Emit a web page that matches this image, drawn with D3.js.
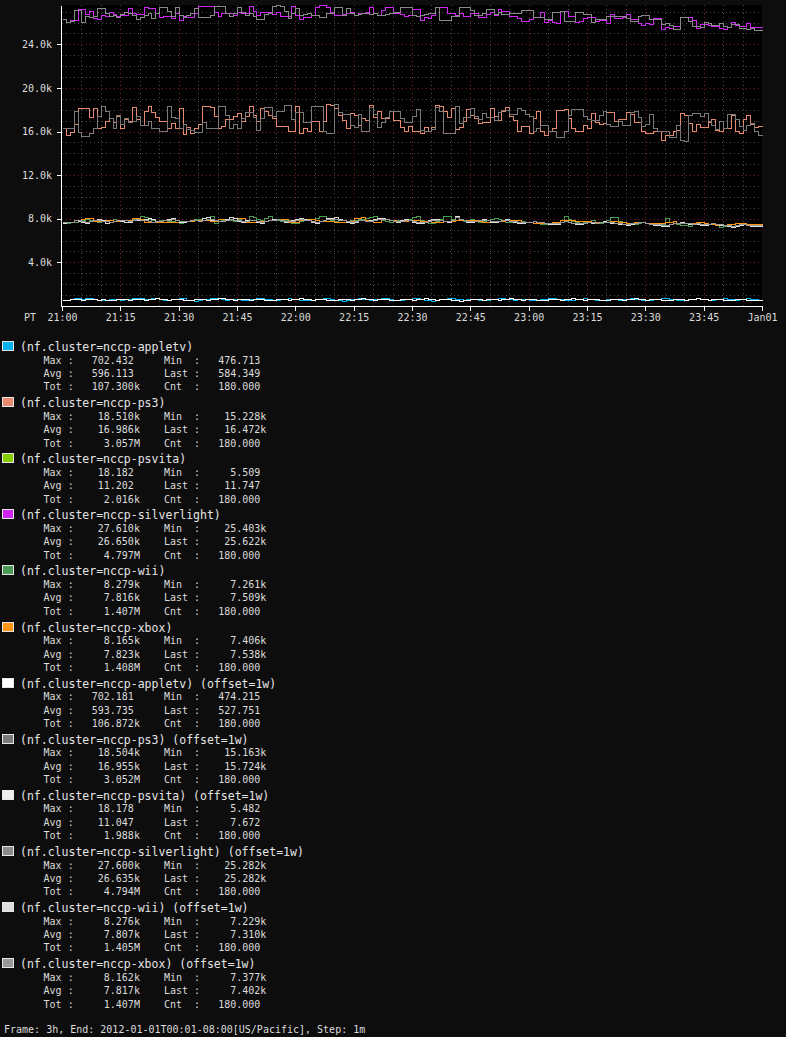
<!DOCTYPE html>
<html>
<head>
<meta charset="utf-8">
<script src="https://cdn.jsdelivr.net/npm/d3@7"></script>
<style>
  html, body { margin: 0; padding: 0; background: #0d0d0d; }
  svg { display: block; }
  text { font-family: "DejaVu Sans Mono", "Liberation Mono", monospace; white-space: pre; }
</style>
</head>
<body>
<svg id="chart" width="786" height="1037"></svg>
<script>
// ---------------- DATA ----------------
const stepMinutes = 1;
const startTime = Date.UTC(2011, 11, 31, 21, 0); // 21:00 PT shown as clock time
const pointCount = 180;

const appletv = [
560,520,600,690,690,650,700,702.432,600,560,
520,560,600,640,600,560,600,650,690,690,
700,650,620,690,690,600,560,540,600,640,
690,690,560,520,500,540,600,640,690,700,
690,600,560,600,650,600,520,540,600,650,
690,690,640,600,560,540,600,650,690,640,
600,560,540,520,560,600,650,690,690,600,
560,520,476.713,520,600,640,690,650,600,560,
600,650,690,690,600,560,520,560,600,640,
690,690,640,560,520,500,560,600,650,690,
690,640,600,560,600,650,600,560,520,560,
600,650,690,690,640,600,560,600,650,600,
560,520,540,600,650,690,690,640,600,560,
520,560,600,640,690,640,600,560,520,560,
600,640,600,560,600,650,690,650,600,560,
540,560,600,640,690,690,640,600,560,520,
560,600,650,690,640,600,560,540,600,650,
690,640,600,560,600,650,690,640,600,584.349];

const ps3 = [
16360,15690,15990,16690,18190,18190,18190,17310,18190,16300,
16450,17000,17210,16910,17430,16300,17120,17000,18220,17120,
16600,17920,18350,17820,17310,17000,17000,16300,16820,16300,
18130,15780,16450,15900,16300,16690,18350,18350,18220,17430,
16300,16510,17120,17120,17430,17670,17000,17430,18350,17520,
17000,18160,17920,17550,17250,16480,16480,16480,16020,16020,
18320,15870,16330,16020,16940,16940,16020,16940,18510,18470,
18160,17550,17090,16330,17710,17550,16640,17250,17090,18400,
17300,17920,17250,17250,17920,17090,17090,16400,16020,16550,
16070,16070,15870,16390,16020,16390,18410,18320,17860,17310,
18160,16270,16390,16940,18100,17550,17250,16790,16880,16880,
18160,17400,17090,17920,18220,17400,17090,16020,16480,16480,
15870,17250,17920,16020,15720,16080,16330,18010,18010,18100,
17250,16330,16020,16020,16640,16330,17710,16880,16700,16790,
17800,17800,16940,17190,17190,17800,17610,16880,16880,16080,
15870,15870,16080,16080,15228,15660,15660,16020,16180,17710,
17550,16790,16020,16700,16390,16390,16880,17190,16180,16020,
16330,16330,17490,16020,15870,17190,17550,16700,16390,16472];

const psvita = [
10,12,11,9,13,14,12,10,8,11,
12,13,15,11,9,10,12,14,11,10,
9,12,13,11,10,8,11,13,15,12,
11,10,12,14,13,11,9,10,12,11,
13,15,18.182,12,10,9,11,12,14,11,
10,12,11,9,8,10,12,13,11,10,
12,14,12,10,9,11,13,12,10,11,
12,10,8,5.509,9,11,12,14,13,11,
10,12,13,11,9,10,12,11,13,15,
12,10,11,13,12,10,9,11,12,14,
13,11,10,12,11,9,10,12,13,11,
10,12,14,12,11,9,10,11,13,12,
11,10,12,13,11,9,8,10,12,11,
13,12,10,11,12,14,11,10,9,11,
12,13,11,10,12,11,9,10,12,13,
11,10,12,14,12,10,11,13,12,10,
9,11,12,10,11,13,12,10,11,12,
13,11,10,12,11,9,10,12,11,11.747];

const silverlight = [
26330,26020,26230,26230,27210,27210,26780,27090,26390,26330,
26650,26600,26960,26780,26600,26690,26690,27300,26910,26780,
26780,27400,27300,27300,26910,26540,26600,26600,26390,26850,
26230,26600,26480,26480,26850,27520,27520,27520,27520,27000,
26600,26850,26850,26850,26690,27000,26850,26850,27520,27090,
26690,27000,27000,27000,26780,27000,26600,26600,26600,27520,
26690,26330,26480,26480,26690,27460,27610,27580,27400,27000,
26690,26690,26780,26910,27000,26690,26910,26910,27000,27460,
26910,26690,27150,27400,27400,26910,26910,26780,26600,26650,
27250,27250,26230,26540,26390,26690,27400,27400,27400,26910,
26910,26690,26850,26600,26600,26910,26850,26540,26540,26780,
27000,26690,27210,27090,27090,26600,26600,26390,26170,26170,
26330,26480,26480,27000,26080,26230,26080,25930,27030,27030,
26600,26600,26050,26170,26390,26480,26480,26170,26230,26230,
25990,26780,26390,26390,26540,26780,26330,26330,25930,25780,
25930,25870,26450,26450,25403,25560,25470,25680,25680,26480,
26480,26480,26230,25470,25870,25870,25780,25680,25680,25470,
25410,25620,26080,25780,25680,25680,25990,25620,25620,25622];

const wii = [
7700,7650,7680,7750,7900,7900,7980,7850,7800,7720,
7760,7820,7900,7950,7880,7800,7850,7780,7950,8050,
8230,8180,7950,7900,7800,7850,7880,7820,7780,7700,
7640,7700,7800,7880,7950,8000,7900,7850,8250,7620,
7780,7900,7950,7870,7820,8000,8050,7900,8260,8180,
7950,7900,8050,8270,8000,7850,7800,7900,7850,7620,
7650,7800,7900,7880,7950,8050,8230,8279,8000,7900,
7820,7750,7700,7800,7900,7850,7950,8000,8050,8200,
8250,7950,7850,7780,7700,7820,7900,7850,7900,8000,
8150,8250,7900,7800,7580,7650,7800,7950,8240,8260,
8000,7900,7850,7800,7900,7950,7850,7750,7800,7900,
7950,8050,7950,7800,7700,7750,7850,7900,7800,7750,
7700,7650,7600,7550,7480,7520,7500,7600,7750,8220,
7950,7800,7700,7650,7700,7800,7850,7700,7650,7750,
7900,8200,8150,7800,7700,7650,7600,7550,7600,7700,
7650,7550,7480,7400,7500,8100,7700,7600,7500,7450,
7400,7350,7500,7600,7700,7650,7550,7500,7400,7261,
7300,7450,7550,7600,7650,7550,7500,7450,7520,7509];

const xbox = [
7720,7700,7750,7920,7920,7950,8050,8050,7780,7780,
7800,7850,7850,7830,7800,7830,7850,7900,8050,8050,
7950,7750,7750,7720,7720,7720,7720,7700,7750,7750,
7800,7830,7830,7830,7920,7920,7850,7850,7830,7830,
7950,7950,7980,8020,8050,8050,8100,7750,7720,7720,
7800,7830,7830,7900,7950,7980,8000,8000,7750,7720,
7720,7900,7920,7950,7950,7850,7830,7830,7800,7780,
7720,7720,7700,7780,7800,8050,8100,8165,7900,7780,
7750,7700,7950,7950,7920,7850,7830,7830,7800,7920,
7920,7920,7800,7780,7780,7700,7720,7720,7780,7800,
7830,7850,7920,7900,7900,7880,7920,7780,7720,7720,
7700,7780,7830,7830,7850,7880,7850,7850,7720,7700,
7700,7640,7640,7620,7620,7650,7700,7700,7850,7900,
7880,7850,7800,7780,7800,7830,7700,7680,7720,7750,
7750,7800,7830,7700,7700,7650,7650,7680,7700,7680,
7650,7620,7610,7600,7610,7700,7750,7800,7650,7580,
7580,7600,7650,7700,7700,7600,7550,7500,7450,7406,
7450,7500,7550,7580,7600,7580,7560,7550,7540,7538];

const appletvOffset = [
540,560,600,640,600,560,600,640,600,560,
600,560,520,560,600,640,600,560,600,640,
600,560,600,640,690,640,600,560,600,640,
600,560,520,560,600,640,600,560,600,640,
690,702.181,640,600,560,600,640,600,560,600,
640,600,560,520,560,600,640,600,560,600,
640,690,640,600,560,600,640,600,560,520,
560,600,640,600,560,600,640,690,640,600,
560,600,640,600,560,520,560,600,640,600,
560,600,640,690,640,600,560,600,640,600,
560,520,474.215,520,560,600,640,600,560,600,
640,600,560,600,640,690,640,600,560,600,
640,600,560,520,560,600,640,600,560,600,
640,690,640,600,560,600,640,600,560,520,
560,600,640,600,560,600,640,690,640,600,
560,600,640,600,560,520,560,600,640,600,
560,600,640,690,640,600,560,600,640,600,
560,520,560,600,640,600,560,540,530,527.751];

const ps3Offset = [
16360,16360,16360,17920,15990,15600,15600,15900,16300,17430,
18300,17920,17210,16300,17520,16690,17210,16910,17000,17430,
16600,16600,17000,16300,16300,16060,16060,18300,17310,17210,
16300,16690,16210,16120,15960,15960,16910,16300,16300,16300,
18380,18350,17520,16300,16690,16300,17210,17820,17820,17310,
16180,17250,18220,18220,17400,17920,17920,18470,18470,17190,
17800,17800,16880,16880,18320,18320,18320,16020,15870,15870,
18504,17800,17610,17610,16640,16390,17610,16020,16020,18220,
17610,16390,16880,17310,17860,17920,17920,17250,16880,16880,
17400,18100,16180,16020,16020,16270,18220,17920,15870,15870,
15870,18320,16790,17310,17310,18160,17400,17190,17710,17310,
17310,17090,17800,18010,18010,17610,17610,18160,18010,17610,
17400,16020,16330,16640,16640,16020,16020,15470,15470,16080,
17550,18100,18100,18100,17400,17190,17030,17030,17550,17920,
16700,16480,16480,16940,16640,16640,17800,17860,17310,16480,
16700,17610,16330,16020,16020,16080,15470,15470,16640,15260,
15163,17550,17710,17710,17400,17710,16940,16640,16270,16940,
16330,17610,17610,17190,16480,16180,16640,16790,16020,15724];

const psvitaOffset = [
11,10,12,13,11,9,10,12,11,13,
12,10,9,11,13,12,10,11,12,14,
12,11,10,9,11,12,13,11,10,12,
13,11,9,10,12,11,13,15,12,10,
11,12,10,9,11,13,12,10,11,12,
14,12,11,10,12,13,11,9,10,12,
11,13,12,10,9,11,12,14,18.178,12,
11,10,12,11,9,10,12,13,11,10,
12,11,9,5.482,8,10,12,11,13,12,
10,11,12,10,9,11,13,12,10,11,
12,13,11,10,9,11,12,10,11,13,
12,10,11,12,9,10,11,13,12,10,
11,12,10,9,11,12,13,11,10,12,
11,10,9,11,12,13,11,10,12,11,
10,12,11,9,10,11,13,12,10,11,
12,11,10,9,11,12,10,11,12,10,
9,11,12,10,11,10,9,11,12,10,
11,12,10,9,10,11,9,8,8,7.672];

const silverlightOffset = [
26330,26080,26170,27150,27150,26080,26600,26480,26600,27300,
27300,26850,26600,26690,26540,26780,27000,26850,26690,26330,
26540,26690,26910,26390,26850,27400,27400,27090,26600,27400,
26690,26540,26690,26850,27300,26540,26540,26540,26690,27520,
27520,27520,26910,26600,26850,27460,27000,26690,26910,26600,
26330,26330,26780,26850,27520,27600,27520,27090,26390,26850,
27300,26690,26780,26910,26690,26690,26540,26540,26850,26910,
27460,27460,26690,27300,26850,26690,26780,26850,26910,26780,
26910,26690,26690,26780,26850,27000,27000,27400,27400,27400,
26690,26600,26690,26780,26910,26850,27460,26230,26230,26230,
26600,26600,27400,27400,27400,27150,26690,26690,26910,27210,
27210,26780,27000,26780,26780,26850,26850,26850,27150,27150,
27150,26480,26480,26540,26330,26330,27000,27000,27030,26170,
26170,26170,26940,26940,26780,26780,26080,26330,26330,26330,
26600,26600,26600,26600,26600,26450,26170,26170,26600,26690,
26690,26330,26330,26330,25870,25930,25780,25380,25380,26480,
26480,26170,25680,25680,25620,26080,25990,25780,25780,25930,
25680,25620,25870,25870,25500,25500,25410,25500,25282,25282];

const wiiOffset = [
7650,7700,7680,7900,7820,7700,7650,7780,7900,7950,
7880,7650,7700,7800,7900,7800,7750,7700,7880,7920,
7850,8000,8050,7950,7800,7780,7900,7950,8050,7850,
7750,7720,7800,7900,7880,7800,8100,8150,7900,7850,
7780,7800,7950,8150,8100,7800,7750,7880,7900,7850,
7700,7650,7800,7900,8000,7950,7850,7750,7800,7900,
8000,8050,7950,7850,7700,7650,7800,7900,8050,8100,
8150,7950,7850,7700,7650,7750,7880,7900,7800,7850,
7950,8050,8100,8000,7900,7800,7750,7850,7950,7880,
7750,7650,7600,7700,7850,7950,8000,7900,7800,7750,
7850,8276,8000,7850,7750,7700,7800,7900,7950,7850,
7750,7700,7800,7880,7950,7800,7700,7650,7600,7680,
7750,7800,7750,7700,7600,7550,7500,7550,7700,7800,
7700,7600,7550,7500,7600,7700,7650,7600,7700,7800,
7750,7650,7600,7550,7500,7450,7550,7650,7750,7700,
7600,7500,7450,7400,7350,7300,7500,7600,7650,7700,
7600,7550,7500,7550,7450,7400,7500,7600,7550,7450,
7400,7350,7229,7300,7450,7500,7400,7350,7300,7310];

const xboxOffset = [
7700,7680,7720,7850,7880,7800,7750,7820,7900,7850,
7820,7780,7750,7800,7850,7900,7880,7820,7850,7950,
7920,7880,7800,7750,7780,7820,7850,7900,7950,7900,
7800,7780,7820,7880,7850,7820,7900,8000,7950,7850,
7800,7820,7900,7950,7920,7850,7800,7830,7880,7900,
7820,7750,7800,7850,7900,7950,7900,7800,7780,7820,
7900,7950,7900,7850,7780,7750,7800,7850,7950,7980,
8000,7920,7850,7780,7750,7800,7850,7880,7820,7800,
7850,7950,8000,7950,7880,7820,7800,7820,7900,7850,
7800,7750,7700,7750,7800,7880,7920,7880,7820,7800,
7850,8162,7950,7850,7800,7780,7820,7850,7900,7850,
7800,7780,7820,7850,7880,7820,7780,7750,7700,7720,
7750,7780,7750,7700,7650,7600,7580,7620,7700,7780,
7720,7650,7600,7580,7620,7700,7680,7650,7700,7750,
7720,7680,7650,7600,7550,7520,7580,7650,7700,7680,
7620,7550,7500,7480,7450,7420,7520,7600,7620,7650,
7600,7580,7550,7580,7500,7480,7520,7580,7550,7500,
7450,7420,7377,7400,7480,7520,7450,7420,7400,7402];

const seriesNames = [
  "(nf.cluster=nccp-appletv)", "(nf.cluster=nccp-ps3)", "(nf.cluster=nccp-psvita)",
  "(nf.cluster=nccp-silverlight)", "(nf.cluster=nccp-wii)", "(nf.cluster=nccp-xbox)",
  "(nf.cluster=nccp-appletv) (offset=1w)", "(nf.cluster=nccp-ps3) (offset=1w)",
  "(nf.cluster=nccp-psvita) (offset=1w)", "(nf.cluster=nccp-silverlight) (offset=1w)",
  "(nf.cluster=nccp-wii) (offset=1w)", "(nf.cluster=nccp-xbox) (offset=1w)"
];
const seriesColors = [
  "#00b0f0", "#e58a6e", "#88cc00", "#d226f5", "#4a9a52", "#ff9412",
  "#ffffff", "#7a7a7a", "#eeeeee", "#8a8a8a", "#dddddd", "#9a9a9a"
];
const seriesValues = [
  appletv, ps3, psvita, silverlight, wii, xbox,
  appletvOffset, ps3Offset, psvitaOffset, silverlightOffset, wiiOffset, xboxOffset
];

const statMax  = [702.432, 18510, 18.182, 27610, 8279, 8165, 702.181, 18504, 18.178, 27600, 8276, 8162];
const statMin  = [476.713, 15228, 5.509, 25403, 7261, 7406, 474.215, 15163, 5.482, 25282, 7229, 7377];
const statAvg  = [596.113, 16986, 11.202, 26650, 7816, 7823, 593.735, 16955, 11.047, 26635, 7807, 7817];
const statLast = [584.349, 16472, 11.747, 25622, 7509, 7538, 527.751, 15724, 7.672, 25282, 7310, 7402];
const statTot  = [107300, 3057000, 2016, 4797000, 1407000, 1408000, 106872, 3052000, 1988, 4794000, 1405000, 1407000];
const statCnt  = [180, 180, 180, 180, 180, 180, 180, 180, 180, 180, 180, 180];

const yTickValues = [4000, 8000, 12000, 16000, 20000, 24000];
const yMax = 27610;
const footerText = "Frame: 3h, End: 2012-01-01T00:01-08:00[US/Pacific], Step: 1m";
const tzLabel = "PT";

// ---------------- LAYOUT ----------------
const svg = d3.select("#chart");
const P = { left: 62, right: 762, top: 5, bottom: 306 };
const endTime = startTime + pointCount * stepMinutes * 60000;

const x = d3.scaleUtc().domain([new Date(startTime), new Date(endTime)]).range([P.left, P.right]);
const y = d3.scaleLinear().domain([0, yMax]).range([P.bottom, P.top]);

svg.append("rect").attr("x", 0).attr("y", 0).attr("width", 786).attr("height", 1037).attr("fill", "#0d0d0d");
svg.append("rect").attr("x", P.left).attr("y", P.top)
  .attr("width", P.right - P.left).attr("height", P.bottom - P.top).attr("fill", "#000");

// grid
const grid = svg.append("g").attr("shape-rendering", "crispEdges");
const minorY = d3.range(1000, yMax, 1000).filter(v => v % 4000 !== 0);
minorY.forEach(v => {
  const yy = Math.round(y(v)) + 0.5;
  grid.append("line").attr("x1", P.left).attr("x2", P.right).attr("y1", yy).attr("y2", yy)
    .attr("stroke", "#4a4a4a").attr("stroke-dasharray", "1,3");
});
const minorX = d3.utcMinute.every(5).range(new Date(startTime + 1), new Date(endTime))
  .filter(d => d.getUTCMinutes() % 15 !== 0);
minorX.forEach(d => {
  const xx = Math.round(x(d)) + 0.5;
  grid.append("line").attr("x1", xx).attr("x2", xx).attr("y1", P.top).attr("y2", P.bottom)
    .attr("stroke", "#4a4a4a").attr("stroke-dasharray", "1,3");
});
yTickValues.forEach(v => {
  const yy = Math.round(y(v)) + 0.5;
  grid.append("line").attr("x1", P.left).attr("x2", P.right).attr("y1", yy).attr("y2", yy)
    .attr("stroke", "#7a1e1e").attr("stroke-dasharray", "1,3");
});
const majorX = d3.utcMinute.every(15).range(new Date(startTime + 1), new Date(endTime));
majorX.forEach(d => {
  const xx = Math.round(x(d)) + 0.5;
  grid.append("line").attr("x1", xx).attr("x2", xx).attr("y1", P.top).attr("y2", P.bottom)
    .attr("stroke", "#7a1e1e").attr("stroke-dasharray", "1,3");
});

// lines
const lineGen = d3.line()
  .x(d => Math.round(x(d.t)) + 0.5)
  .y(d => Math.round(y(d.v)) + 0.5)
  .curve(d3.curveStepAfter);
const lines = svg.append("g").attr("shape-rendering", "crispEdges");
seriesValues.forEach((vals, i) => {
  const pts = vals.map((v, k) => ({ t: new Date(startTime + k * stepMinutes * 60000), v }));
  pts.push({ t: new Date(endTime), v: vals[vals.length - 1] });
  lines.append("path").attr("d", lineGen(pts)).attr("fill", "none")
    .attr("stroke", seriesColors[i]).attr("stroke-width", 1);
});

// axes
const fmtTime = d3.utcFormat("%H:%M");
const fmtDay = d3.utcFormat("%b%d");
const xAxis = d3.axisBottom(x)
  .ticks(d3.utcMinute.every(15))
  .tickSizeInner(5).tickSizeOuter(0).tickPadding(3)
  .tickFormat(d => (d.getUTCHours() === 0 && d.getUTCMinutes() === 0) ? fmtDay(d) : fmtTime(d));
const gx = svg.append("g").attr("transform", `translate(0,${P.bottom})`).call(xAxis);
const yAxis = d3.axisLeft(y)
  .tickValues(yTickValues)
  .tickSizeInner(4).tickSizeOuter(0).tickPadding(5)
  .tickFormat(v => (v / 1000).toFixed(1) + "k");
const gy = svg.append("g").attr("transform", `translate(${P.left - 1},0)`).call(yAxis);
[gx, gy].forEach(g => {
  g.attr("shape-rendering", "crispEdges");
  g.select(".domain").attr("stroke", "#ffffff");
  g.selectAll(".tick line").attr("stroke", "#ffffff");
  g.selectAll(".tick text").attr("fill", "#dcdcdc")
    .style("font-family", '"DejaVu Sans Mono", monospace').style("font-size", "10px");
});

svg.append("text").attr("x", 24).attr("y", 320.5).attr("fill", "#dcdcdc")
  .style("font-size", "10px").text(tzLabel);

// legend
function fmtStat(v) {
  let s = " ", n = v;
  if (Math.abs(v) >= 1e6) { n = v / 1e6; s = "M"; }
  else if (Math.abs(v) >= 1e3) { n = v / 1e3; s = "k"; }
  return n.toFixed(3).padStart(9, " ") + s;
}
const legend = svg.append("g");
const entryH = 56.1, firstBase = 351;
seriesNames.forEach((name, i) => {
  const base = firstBase + i * entryH;
  legend.append("rect").attr("x", 2.5).attr("y", base - 9.5).attr("width", 11).attr("height", 9)
    .attr("fill", seriesColors[i]).attr("stroke", "#e6e6e6").attr("stroke-width", 1)
    .attr("shape-rendering", "crispEdges");
  legend.append("text").attr("x", 20).attr("y", base).attr("fill", "#e6e6e6")
    .style("font-size", "11.5px").text(name);
  const rows = [
    "    Max : " + fmtStat(statMax[i]) + "    Min  : " + fmtStat(statMin[i]),
    "    Avg : " + fmtStat(statAvg[i]) + "    Last : " + fmtStat(statLast[i]),
    "    Tot : " + fmtStat(statTot[i]) + "    Cnt  : " + fmtStat(statCnt[i])
  ];
  rows.forEach((r, k) => {
    legend.append("text").attr("x", 19.5).attr("y", base + 12.6 + k * 13.4).attr("fill", "#dcdcdc")
      .style("font-size", "10px").text(r);
  });
});

svg.append("text").attr("x", 4).attr("y", 1032.5).attr("fill", "#dcdcdc")
  .style("font-size", "10px").text(footerText);
</script>
</body>
</html>
